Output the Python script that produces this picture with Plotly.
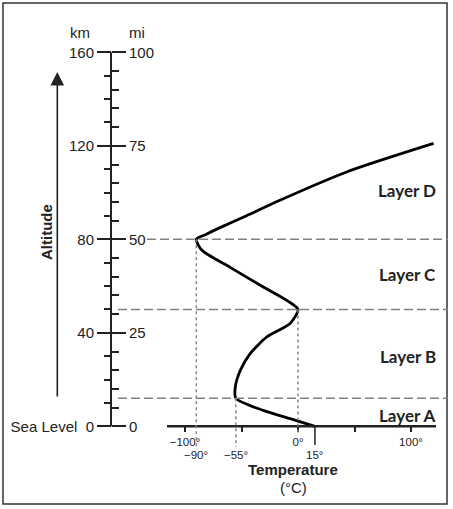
import plotly.graph_objects as go

# ---------------- data ----------------
altitude_km = [0, 3.3, 6.8, 12, 16.8, 24, 31, 38.2, 44, 50, 53.9, 59.6, 68, 75.3, 80,
               82, 85, 90, 96.7, 108.8, 121]
temperature_c = [15, -7, -30.7, -55, -55.5, -51, -42.5, -27.7, -7, 0, -10, -30.7, -60, -85, -90,
                 -82, -69, -46, -16, 43, 120]

km_ticks = [0, 40, 80, 120, 160]
km_labels = ["Sea Level\u00a0\u00a00", "40", "80", "120", "160"]
km_minor = [10, 20, 30, 50, 60, 70, 90, 100, 110, 130, 140, 150]
mi_ticks = [0, 25, 50, 75, 100]
mi_labels = ["0", "25", "50", "75", "100"]
mi_minor = [5, 10, 15, 20, 30, 35, 40, 45, 55, 60, 65, 70, 80, 85, 90, 95]
temp_ticks = [-100, 0, 100]
temp_labels = ["\u2212100\u00b0", "0\u00b0", "100\u00b0"]
temp_minor = [-50, 50]
marker_temps = [-90, -55, 15]
marker_labels = ["\u221290\u00b0", "\u221255\u00b0", "15\u00b0"]
boundary_km = [12, 50, 80]          # layer boundaries (dashed)
boundary_temp = [-55, 0, -90]        # temperature at each boundary (dotted)
layer_names = ["Layer A", "Layer B", "Layer C", "Layer D"]
layer_label_km = [4.8, 29.7, 65.1, 100.7]
KM_PER_MI = 1.6

# ---------------- layout geometry (pixels) ----------------
W, H = 453, 509
PX_PER_DEG, T0_PX = 1.13, 298.0
PX_PER_KM, KM0_PX = 2.3375, 426.3


def t_of_px(px):
    return (px - T0_PX) / PX_PER_DEG


def km_of_py(py):
    return (KM0_PX - py) / PX_PER_KM


def fx(px):
    return px / W


def fy(py):
    return 1 - py / H


xr = [t_of_px(0), t_of_px(W)]
yr = [km_of_py(H), km_of_py(0)]
ink = "#222222"
sans = "Liberation Sans, Arial, sans-serif"

fig = go.Figure()
fig.add_trace(go.Scatter(x=temperature_c, y=altitude_km, mode="lines",
                         line=dict(color="black", width=2.8, shape="spline", smoothing=0.7),
                         hoverinfo="skip", showlegend=False))
fig.add_trace(go.Scatter(x=temperature_c, y=[a / KM_PER_MI for a in altitude_km], mode="lines",
                         yaxis="y2", opacity=0, hoverinfo="skip", showlegend=False))

shapes = []
# border
shapes.append(dict(type="rect", xref="paper", yref="paper", x0=fx(3), x1=fx(447),
                   y0=fy(504), y1=fy(3), line=dict(color="#333", width=1.5)))
# altitude axis line
shapes.append(dict(type="line", xref="x", yref="y", x0=t_of_px(111), x1=t_of_px(111),
                   y0=km_ticks[0], y1=km_ticks[-1], line=dict(color=ink, width=2)))
# temperature axis line
shapes.append(dict(type="line", xref="x", yref="y", x0=t_of_px(167), x1=t_of_px(436),
                   y0=0, y1=0, line=dict(color=ink, width=2.5)))
# dashed boundaries
dash_start_px = {12: 118, 50: 118, 80: 147}
for b in boundary_km:
    shapes.append(dict(type="line", xref="x", yref="y", x0=t_of_px(dash_start_px[b]), x1=t_of_px(448),
                       y0=b, y1=b, line=dict(color="#808080", width=1.5, dash="9px,4px")))
# dotted verticals
dot_end_py = {-55: 447, 0: 434, -90: 447}
for b, t in zip(boundary_km, boundary_temp):
    shapes.append(dict(type="line", xref="x", yref="y", x0=t, x1=t, y0=b, y1=km_of_py(dot_end_py[t]),
                       line=dict(color="#888", width=1.5, dash="dot")))
# 15 deg tick
shapes.append(dict(type="line", xref="x", yref="y", x0=15, x1=15, y0=0, y1=km_of_py(445),
                   line=dict(color=ink, width=1.5)))


def label(x, y, text, size=15, family=sans, xref="paper", yref="paper", **kw):
    d = dict(xref=xref, yref=yref, x=x, y=y, text=text, showarrow=False,
             xanchor="center", yanchor="middle",
             font=dict(family=family, size=size, color=ink))
    d.update(kw)
    return d


annotations = []
annotations.append(label(fx(80), fy(33), "km"))
annotations.append(label(fx(137), fy(33), "mi"))
annotations.append(label(fx(46), fy(232), "<b>Altitude</b>", textangle=-90))
annotations.append(dict(xref="paper", yref="paper", x=fx(57.3), y=fy(72), ax=0, ay=326,
                        axref="pixel", ayref="pixel", text="", showarrow=True, arrowhead=2,
                        arrowsize=1.7, arrowwidth=1.6, arrowcolor=ink, standoff=0, startstandoff=0))
for t, lab in zip(marker_temps, marker_labels):
    annotations.append(label(t, fy(455), lab, size=11.5, xref="x"))
annotations.append(label(fx(293), fy(469), "<b>Temperature</b>"))
annotations.append(label(fx(293), fy(487), "(\u00b0C)"))
for name, k in zip(layer_names, layer_label_km):
    annotations.append(label(fx(438), k, "<b>" + name + "</b>", size=17,
                             family="Lato, sans-serif", yref="y", xanchor="right"))

fig.update_layout(
    width=W, height=H, margin=dict(l=0, r=0, t=0, b=0),
    paper_bgcolor="white", plot_bgcolor="white", showlegend=False,
    xaxis=dict(range=xr, domain=[0, 1], anchor="free", position=fy(KM0_PX),
               showgrid=False, zeroline=False, showline=False,
               tickmode="array", tickvals=temp_ticks, ticktext=temp_labels,
               ticks="outside", ticklen=5, tickwidth=1.5, tickcolor=ink,
               tickfont=dict(family=sans, size=11.5, color=ink),
               minor=dict(tickmode="array", tickvals=temp_minor, ticks="outside", ticklen=5,
                          tickwidth=1.5, tickcolor=ink)),
    yaxis=dict(range=yr, domain=[0, 1], anchor="free", position=fx(111), side="left",
               showgrid=False, zeroline=False, showline=False,
               tickmode="array", tickvals=km_ticks, ticktext=km_labels,
               ticks="outside", ticklen=14, tickwidth=2, tickcolor=ink,
               tickfont=dict(family=sans, size=15, color=ink),
               minor=dict(tickmode="array", tickvals=km_minor, ticks="outside", ticklen=7,
                          tickwidth=1.5, tickcolor=ink)),
    yaxis2=dict(range=[v / KM_PER_MI for v in yr], overlaying="y", anchor="free", position=fx(111),
                side="right", showgrid=False, zeroline=False, showline=False,
                tickmode="array", tickvals=mi_ticks, ticktext=mi_labels,
                ticks="outside", ticklen=14, tickwidth=2, tickcolor=ink,
                tickfont=dict(family=sans, size=15, color=ink),
                minor=dict(tickmode="array", tickvals=mi_minor, ticks="outside", ticklen=7,
                           tickwidth=1.5, tickcolor=ink)),
    shapes=shapes, annotations=annotations,
)

fig.write_html("out.html", config={"displayModeBar": False},
               post_script="document.body.style.margin='0';document.body.style.overflow='hidden';")
